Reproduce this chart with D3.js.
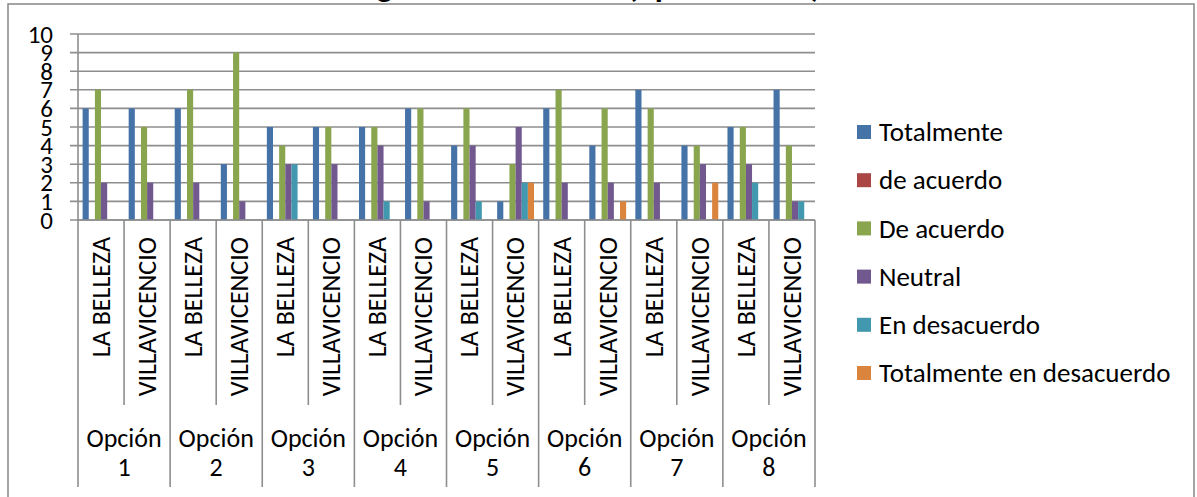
<!DOCTYPE html>
<html><head><meta charset="utf-8">
<script src="https://cdn.jsdelivr.net/npm/d3@7"></script>
<style>
body{margin:0;background:#fff}
svg{display:block}
text{font-family:Carlito,Calibri,Lato,sans-serif;fill:#000}
</style>
</head><body>
<svg id="c" width="1197" height="497"></svg>
<script>
// ---- data ----
const options = ["Opción 1","Opción 2","Opción 3","Opción 4","Opción 5","Opción 6","Opción 7","Opción 8"];
const sites = ["LA BELLEZA","VILLAVICENCIO"];
const seriesNames = ["Totalmente","de acuerdo","De acuerdo","Neutral","En desacuerdo","Totalmente en desacuerdo"];
const seriesColors = ["#4572A7","#AA4643","#89A54E","#71588F","#4198AF","#DB843D"];
const totalmente    = [6,6,6,3,5,5,5,6,4,1,6,4,7,4,5,7];
const deAcuerdoRojo = [0,0,0,0,0,0,0,0,0,0,0,0,0,0,0,0];
const deAcuerdo     = [7,5,7,9,4,5,5,6,6,3,7,6,6,4,5,4];
const neutral       = [2,2,2,1,3,3,4,1,4,5,2,2,2,3,3,1];
const enDesacuerdo  = [0,0,0,0,3,0,1,0,1,2,0,0,0,0,2,1];
const totDesacuerdo = [0,0,0,0,0,0,0,0,0,2,0,1,0,2,0,0];
const yTicks = [0,1,2,3,4,5,6,7,8,9,10];
const titleText = "Calificación general del sector (opción única)";

// ---- build ----
const seriesValues = [totalmente,deAcuerdoRojo,deAcuerdo,neutral,enDesacuerdo,totDesacuerdo];
const cats = [];
options.forEach((o,i)=>sites.forEach((s,j)=>cats.push({key:i+"|"+s,opt:o,site:s,idx:cats.length})));

const svg = d3.select("#c");
const L=78,R=815,T=34,B=220;
const x0 = d3.scaleBand().domain(cats.map(c=>c.key)).range([L,R]).paddingInner(0).paddingOuter(0);
const x1 = d3.scaleBand().domain(seriesNames).range([0,x0.bandwidth()]).paddingInner(0).paddingOuter(0.75);
const y = d3.scaleLinear().domain([0,10]).range([B,T]);
const grid="#8e8e8e";
const FS="26px";

// title (clipped at top, as in the reference)
svg.append("text").attr("x",821).attr("y",-3.5).attr("text-anchor","end")
  .style("font-size","33px").style("font-weight","bold").text(titleText);

// frame
svg.append("rect").attr("x",8).attr("y",4).attr("width",1186).attr("height",510)
  .attr("fill","#fff").attr("stroke",grid).attr("stroke-width",1.6);

// gridlines + ticks
svg.append("g").selectAll("line").data(yTicks).join("line")
  .attr("x1",L-8).attr("x2",R).attr("y1",d=>y(d)).attr("y2",d=>y(d))
  .attr("stroke",grid).attr("stroke-width",1.6);
svg.append("line").attr("x1",L).attr("x2",L).attr("y1",T).attr("y2",B).attr("stroke",grid).attr("stroke-width",1.6);
svg.append("g").selectAll("text").data(yTicks).join("text")
  .attr("x",53).attr("y",d=>y(d)).attr("dy","0.34em").attr("text-anchor","end")
  .style("font-size","25px").text(d=>d);

// bars
const bars = [];
cats.forEach((c,ci)=>seriesNames.forEach((s,si)=>bars.push({c,s,si,v:seriesValues[si][ci]})));
svg.append("g").selectAll("rect").data(bars.filter(d=>d.v>0)).join("rect")
  .attr("x",d=>x0(d.c.key)+x1(d.s)).attr("width",x1.bandwidth())
  .attr("y",d=>y(d.v)).attr("height",d=>y(0)-y(d.v)).attr("fill",d=>seriesColors[d.si]);

// category axis
const step = x0.step();
const seps = d3.range(cats.length+1);
svg.append("g").selectAll("line").data(seps).join("line")
  .attr("x1",i=>L+i*step).attr("x2",i=>L+i*step).attr("y1",B)
  .attr("y2",i=>i%2===0?487:405).attr("stroke",grid).attr("stroke-width",1.6);
svg.append("line").attr("x1",L).attr("x2",R).attr("y1",B).attr("y2",B).attr("stroke",grid).attr("stroke-width",1.6);
svg.append("g").selectAll("text").data(cats).join("text")
  .attr("transform",d=>`translate(${x0(d.key)+x0.bandwidth()/2},237) rotate(-90)`)
  .attr("text-anchor","end").attr("dy","0.34em").style("font-size",FS).text(d=>d.site);
const og = svg.append("g").selectAll("text").data(options).join("text")
  .attr("text-anchor","middle").style("font-size",FS)
  .attr("x",(d,i)=>L+step*(2*i+1));
og.append("tspan").attr("x",(d,i)=>L+step*(2*i+1)).attr("y",438).attr("dy","0.34em").text(d=>d.split(" ")[0]);
og.append("tspan").attr("x",(d,i)=>L+step*(2*i+1)).attr("y",467).attr("dy","0.34em").text(d=>d.split(" ")[1]);

// legend
const lg = svg.append("g").selectAll("g").data(seriesNames).join("g")
  .attr("transform",(d,i)=>`translate(857,${132+i*48.2})`);
lg.append("rect").attr("x",0).attr("y",-7).attr("width",14).attr("height",14).attr("fill",(d,i)=>seriesColors[i]);
lg.append("text").attr("x",22).attr("dy","0.34em").style("font-size","27px").text(d=>d);
</script>
</body></html>
